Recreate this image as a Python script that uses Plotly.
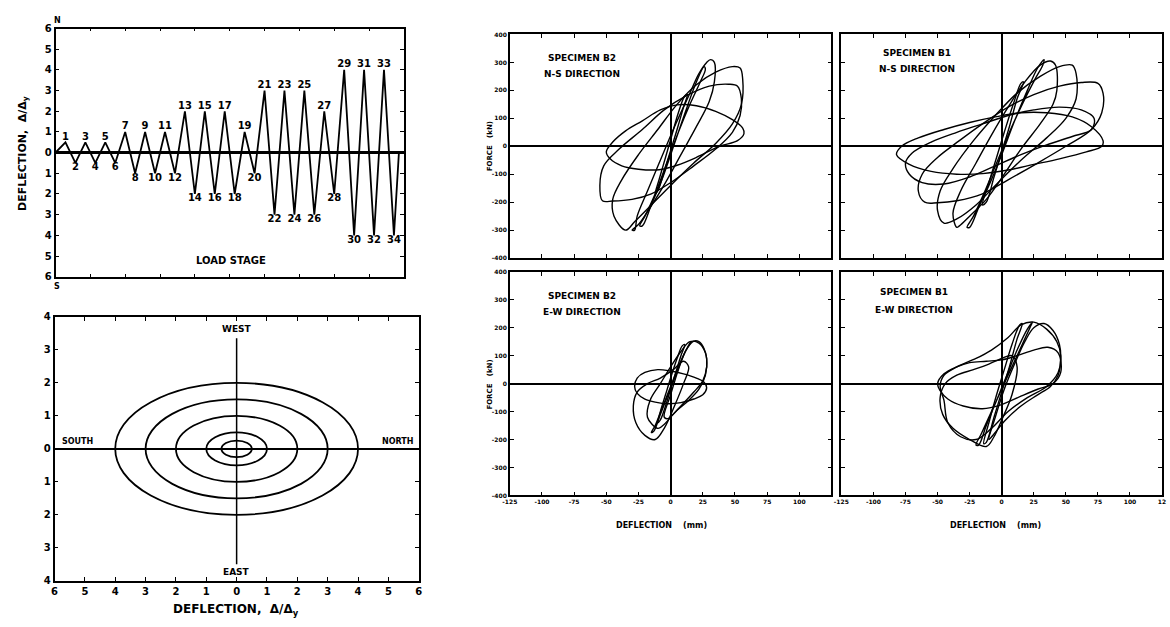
import plotly.graph_objects as go

# ---------------- data ----------------
# Load history (panel: deflection vs load stage)
stage_x = [0, 1, 2, 3, 4, 5, 6, 7, 8, 9, 10, 11, 12, 13, 14, 15, 16, 17, 18, 19, 20,
           21, 22, 23, 24, 25, 26, 27, 28, 29, 30, 31, 32, 33, 34, 34.5]
stage_y = [0, 0.5, -0.5, 0.5, -0.5, 0.5, -0.5, 1, -1, 1, -1, 1, -1, 2, -2, 2, -2, 2, -2, 1, -1,
           3, -3, 3, -3, 3, -3, 2, -2, 4, -4, 4, -4, 4, -4, 0]
stage_ticks = [-6, -5, -4, -3, -2, -1, 0, 1, 2, 3, 4, 5, 6]
stage_ticktext = ["6", "5", "4", "3", "2", "1", "0", "1", "2", "3", "4", "5", "6"]

# Orbit panel: elliptical displacement paths (semi-axes)
orbit_ax = [4.0, 3.0, 2.0, 1.0, 0.5]
orbit_ay = [2.0, 1.5, 1.0, 0.5, 0.25]
orbit_xticks = [-6, -5, -4, -3, -2, -1, 0, 1, 2, 3, 4, 5, 6]
orbit_xtext = ["6", "5", "4", "3", "2", "1", "0", "1", "2", "3", "4", "5", "6"]
orbit_yticks = [-4, -3, -2, -1, 0, 1, 2, 3, 4]
orbit_ytext = ["4", "3", "2", "1", "0", "1", "2", "3", "4"]
orbit_vline_x = [0, 0]
orbit_vline_y = [-3.5, 3.35]

# Hysteresis loops (deflection mm, force kN)
b2ns_x = [
    [-10, -5, 0, 5, 10, 13, 11, 6, 1, -4, -9, -12, -10],
    [-22, -15, -6, 3, 12, 20, 26, 27, 23, 15, 6, -3, -12, -20, -24, -22],
    [-28, -26, -18, -8, 3, 14, 22, 28, 31, 34, 34, 30, 20, 8, -4, -16, -25, -30, -28],
    [-35, -44, -45, -38, -25, -10, 5, 20, 35, 48, 54, 56, 55, 48, 35, 18, 0, -15, -28, -35],
    [-53, -55, -52, -40, -22, -5, 12, 30, 45, 52, 55, 54, 48, 35, 18, 0, -15, -30, -45, -53],
    [-50, -45, -35, -22, -8, 5, 20, 35, 48, 56, 57, 52, 38, 20, 5, -9, -25, -38, -47, -50],
]
b2ns_y = [
    [-160, -90, -15, 60, 140, 185, 180, 120, 40, -40, -120, -170, -160],
    [-285, -210, -110, 10, 130, 230, 285, 275, 230, 150, 50, -60, -170, -250, -285, -285],
    [-300, -250, -160, -50, 70, 180, 260, 300, 310, 300, 230, 160, 70, -30, -130, -220, -280, -300, -300],
    [-300, -250, -190, -120, -30, 60, 150, 220, 265, 285, 280, 240, 150, 80, 10, -60, -140, -210, -270, -300],
    [-195, -140, -70, -10, 60, 130, 180, 215, 222, 215, 170, 110, 50, -10, -70, -130, -170, -190, -196, -195],
    [-20, 15, 55, 91, 130, 148, 145, 125, 95, 65, 45, 20, 0, -40, -68, -84, -82, -70, -45, -20],
]

b1ns_x = [
    [-12, -6, 0, 6, 12, 17, 15, 9, 2, -4, -10, -15, -12],
    [-25, -18, -9, 0, 10, 20, 28, 33, 32, 26, 16, 6, -4, -14, -22, -27, -25],
    [-35, -38, -32, -20, -8, 5, 18, 30, 38, 42, 43, 40, 30, 15, 2, -12, -25, -33, -35],
    [-45, -50, -48, -38, -22, -5, 12, 30, 45, 55, 58, 58, 50, 35, 15, -5, -20, -35, -45],
    [-60, -65, -62, -50, -33, -15, 5, 25, 45, 62, 75, 79, 78, 70, 50, 28, 5, -15, -35, -50, -60],
    [-82, -78, -65, -45, -25, -5, 15, 35, 55, 70, 79, 78, 66, 45, 25, 5, -15, -35, -55, -72, -82],
    [-75, -70, -55, -35, -15, 5, 25, 45, 62, 72, 70, 55, 35, 15, -5, -25, -45, -62, -72, -75],
]
b1ns_y = [
    [-200, -110, -20, 70, 170, 230, 225, 150, 50, -40, -130, -210, -200],
    [-290, -220, -130, -30, 90, 200, 280, 310, 290, 240, 150, 50, -60, -170, -250, -290, -290],
    [-290, -240, -160, -60, 40, 140, 230, 290, 305, 290, 200, 150, 80, -10, -100, -190, -250, -285, -290],
    [-275, -230, -160, -80, 20, 110, 190, 250, 285, 290, 260, 170, 100, 30, -50, -140, -210, -260, -275],
    [-200, -160, -100, -40, 20, 80, 140, 185, 215, 228, 225, 190, 120, 60, 0, -60, -120, -170, -195, -202, -200],
    [-30, 0, 30, 60, 85, 105, 120, 120, 105, 70, 20, 0, -20, -45, -65, -85, -98, -100, -90, -65, -30],
    [-60, -25, 15, 50, 80, 110, 130, 140, 130, 100, 60, 35, 5, -30, -70, -110, -135, -130, -100, -60],
]

b2ew_x = [
    [-8, -4, 0, 4, 8, 11, 9, 5, 0, -4, -8, -10, -8],
    [-13, -8, -2, 4, 10, 15, 16, 12, 6, 0, -6, -12, -15, -13],
    [-10, -18, -16, -8, 0, 8, 15, 22, 27, 28, 25, 18, 10, 2, -6, -10],
    [-12, -20, -27, -29, -26, -18, -8, 2, 10, 14, 10, 3, -5, -12],
    [-28, -26, -20, -10, 0, 10, 20, 26, 28, 25, 18, 8, -2, -12, -20, -26, -28],
    [-5, 0, 6, 12, 18, 22, 26, 28, 27, 22, 14, 5, -2, -5],
]
b2ew_y = [
    [-130, -80, -20, 40, 100, 140, 135, 90, 20, -40, -100, -140, -130],
    [-170, -110, -40, 30, 100, 145, 150, 120, 60, -10, -80, -150, -175, -170],
    [-160, -120, -60, 0, 60, 115, 150, 145, 110, 60, 10, -30, -70, -110, -150, -160],
    [-200, -185, -140, -80, -30, 0, 20, 50, 80, 60, 0, -80, -160, -200],
    [-10, 20, 40, 50, 45, 35, 20, 5, -15, -40, -55, -68, -72, -66, -55, -35, -10],
    [-120, -40, 50, 120, 152, 150, 125, 90, 30, -20, -60, -95, -125, -120],
]

b1ew_x = [
    [-12, -6, 0, 6, 12, 16, 14, 8, 2, -4, -10, -14, -12],
    [-18, -12, -4, 4, 12, 20, 24, 22, 16, 8, 0, -8, -16, -20, -18],
    [-10, -5, 2, 10, 18, 25, 33, 40, 45, 46, 44, 38, 28, 15, 3, -6, -10],
    [-12, -25, -38, -46, -48, -44, -35, -22, -10, 0, 8, 12, 8, 0, -6, -12],
    [-50, -45, -35, -25, -12, 0, 12, 25, 36, 44, 46, 40, 28, 15, 0, -15, -30, -42, -48, -50],
    [-45, -48, -45, -35, -20, -8, 5, 15, 25, 35, 43, 46, 44, 35, 20, 5, -8, -20, -32, -42, -45],
]
b1ew_y = [
    [-210, -120, -30, 60, 160, 215, 210, 140, 50, -40, -140, -215, -210],
    [-220, -150, -60, 30, 120, 195, 220, 200, 140, 60, -20, -100, -180, -220, -220],
    [-200, -120, -20, 70, 150, 200, 215, 190, 140, 90, 30, -10, -40, -80, -130, -180, -200],
    [-225, -200, -160, -110, -50, 0, 30, 50, 70, 90, 100, 60, -40, -130, -190, -225],
    [0, 35, 60, 75, 80, 85, 100, 120, 130, 110, 40, 0, -20, -45, -75, -90, -80, -55, -25, 0],
    [-60, -10, 30, 60, 90, 120, 165, 210, 220, 195, 150, 100, 40, -10, -50, -100, -160, -200, -190, -140, -60],
]

hys_xticks = [-125, -100, -75, -50, -25, 0, 25, 50, 75, 100, 125]
hys_xtext_left = ["-125", "-100", "-75", "-50", "-25", "0", "25", "50", "75", "100", ""]
hys_xtext_right = ["-125", "-100", "-75", "-50", "-25", "0", "25", "50", "75", "100", "12"]
hys_yticks = [-400, -300, -200, -100, 0, 100, 200, 300, 400]
hys_ytext = ["-400", "-300", "-200", "-100", "0", "100", "200", "300", "400"]

# ---------------- figure ----------------
W, H = 1170, 627
BOLD = "DejaVu Sans"


def px_x(p):
    return p / W


def px_y(p):
    return 1 - p / H


fig = go.Figure()

# Panel 1: load history
fig.add_trace(go.Scatter(x=stage_x, y=stage_y, mode="lines",
                         line=dict(color="black", width=1.8), xaxis="x", yaxis="y",
                         hoverinfo="skip"))
pos_x = [s for s, v in zip(stage_x, stage_y) if v > 0]
pos_y = [v for v in stage_y if v > 0]
neg_x = [s for s, v in zip(stage_x, stage_y) if v < 0]
neg_y = [v for v in stage_y if v < 0]
fig.add_trace(go.Scatter(x=pos_x, y=pos_y, mode="text", text=[str(int(s)) for s in pos_x],
                         textposition="top center",
                         textfont=dict(family=BOLD, size=10, color="black", weight="bold"),
                         xaxis="x", yaxis="y", hoverinfo="skip"))
fig.add_trace(go.Scatter(x=neg_x, y=neg_y, mode="text", text=[str(int(s)) for s in neg_x],
                         textposition="bottom center",
                         textfont=dict(family=BOLD, size=10, color="black", weight="bold"),
                         xaxis="x", yaxis="y", hoverinfo="skip"))

# Panel 2: orbits
fig.add_trace(go.Scatter(x=orbit_vline_x, y=orbit_vline_y, mode="lines",
                         line=dict(color="black", width=1.5), xaxis="x2", yaxis="y2",
                         hoverinfo="skip"))
for a, b in zip(orbit_ax, orbit_ay):
    fig.add_shape(type="circle", xref="x2", yref="y2", x0=-a, x1=a, y0=-b, y1=b,
                  line=dict(color="black", width=1.8))

# Hysteresis panels
for xs, ys, ax in [(b2ns_x, b2ns_y, "3"), (b1ns_x, b1ns_y, "4"),
                   (b2ew_x, b2ew_y, "5"), (b1ew_x, b1ew_y, "6")]:
    for lx, ly in zip(xs, ys):
        fig.add_trace(go.Scatter(x=lx, y=ly, mode="lines",
                                 line=dict(color="black", width=1.4, shape="spline", smoothing=1.0),
                                 xaxis="x" + ax, yaxis="y" + ax, hoverinfo="skip"))

base = dict(showline=True, linecolor="black", linewidth=1.5, mirror="ticks",
            ticks="inside", ticklen=4, tickcolor="black", tickwidth=1.2,
            showgrid=False, zeroline=False)

tick_small = dict(family=BOLD, size=10, color="black", weight="bold")
tick_tiny = dict(family=BOLD, size=6, color="black", weight="bold")

layout = dict(
    width=W, height=H, margin=dict(l=0, r=0, t=0, b=0),
    paper_bgcolor="white", plot_bgcolor="white", showlegend=False,
    xaxis=dict(base, domain=[px_x(48), px_x(400)], range=[0, 35], showticklabels=False,
               tickvals=[3.5, 7, 10.5, 14, 17.5, 21, 24.5, 28, 31.5], ticklen=3, anchor="y"),
    yaxis=dict(base, domain=[px_y(276), px_y(23)], range=[-6, 6], tickvals=stage_ticks,
               ticktext=stage_ticktext, tickfont=tick_small, zeroline=True,
               zerolinecolor="black", zerolinewidth=2.5, anchor="x"),
    xaxis2=dict(base, domain=[px_x(47), px_x(415)], range=[-6, 6], tickvals=orbit_xticks,
                ticktext=orbit_xtext, tickfont=tick_small, anchor="y2"),
    yaxis2=dict(base, domain=[px_y(586), px_y(317)], range=[-4, 4], tickvals=orbit_yticks,
                ticktext=orbit_ytext, tickfont=tick_small, zeroline=True,
                zerolinecolor="black", zerolinewidth=1.8, anchor="x2"),
)

hx = dict(base, range=[-125, 125], tickvals=hys_xticks, tickfont=tick_tiny,
          zeroline=True, zerolinecolor="black", zerolinewidth=1.5)
hy = dict(base, range=[-400, 400], tickvals=hys_yticks, ticktext=hys_ytext, tickfont=tick_tiny,
          zeroline=True, zerolinecolor="black", zerolinewidth=1.5)

layout["xaxis3"] = dict(hx, domain=[px_x(507), px_x(832)], showticklabels=False, anchor="y3")
layout["yaxis3"] = dict(hy, domain=[px_y(257), px_y(29)], anchor="x3")
layout["xaxis4"] = dict(hx, domain=[px_x(842), px_x(1166)], showticklabels=False, anchor="y4")
layout["yaxis4"] = dict(hy, domain=[px_y(257), px_y(29)], showticklabels=False, anchor="x4")
layout["xaxis5"] = dict(hx, domain=[px_x(507), px_x(832)], ticktext=hys_xtext_left, anchor="y5")
layout["yaxis5"] = dict(hy, domain=[px_y(499), px_y(271)], anchor="x5")
layout["xaxis6"] = dict(hx, domain=[px_x(842), px_x(1166)], ticktext=hys_xtext_right, anchor="y6")
layout["yaxis6"] = dict(hy, domain=[px_y(499), px_y(271)], showticklabels=False, anchor="x6")

fig.update_layout(**layout)

ann_font = dict(family=BOLD, size=9, color="black", weight="bold")
big_font = dict(family=BOLD, size=12, color="black", weight="bold")
anns = [
    # panel 1
    dict(x=px_x(50), y=px_y(15), xref="paper", yref="paper", text="N", showarrow=False,
         font=dict(family=BOLD, size=8, color="black", weight="bold")),
    dict(x=px_x(50), y=px_y(286), xref="paper", yref="paper", text="S", showarrow=False,
         font=dict(family=BOLD, size=8, color="black", weight="bold")),
    dict(x=px_x(15), y=px_y(150), xref="paper", yref="paper",
         text="DEFLECTION,  Δ/Δ<sub>y</sub>", textangle=-90, showarrow=False,
         font=dict(family=BOLD, size=11, color="black", weight="bold")),
    dict(x=17.6, y=-5.2, xref="x", yref="y", text="LOAD STAGE", showarrow=False,
         font=dict(family=BOLD, size=10, color="black", weight="bold")),
    # panel 2
    dict(x=0, y=3.62, xref="x2", yref="y2", text="WEST", showarrow=False, font=ann_font),
    dict(x=0, y=-3.72, xref="x2", yref="y2", text="EAST", showarrow=False, font=ann_font),
    dict(x=-5.25, y=0.22, xref="x2", yref="y2", text="SOUTH", showarrow=False,
         font=dict(family=BOLD, size=8, color="black", weight="bold")),
    dict(x=5.3, y=0.22, xref="x2", yref="y2", text="NORTH", showarrow=False,
         font=dict(family=BOLD, size=8, color="black", weight="bold")),
    dict(x=px_x(230), y=px_y(616), xref="paper", yref="paper",
         text="DEFLECTION,  Δ/Δ<sub>y</sub>", showarrow=False, font=big_font),
    # hysteresis panels
    dict(x=-69, y=316, xref="x3", yref="y3", text="SPECIMEN B2", showarrow=False, font=ann_font),
    dict(x=-69, y=258, xref="x3", yref="y3", text="N-S DIRECTION", showarrow=False, font=ann_font),
    dict(x=-66, y=334, xref="x4", yref="y4", text="SPECIMEN B1", showarrow=False, font=ann_font),
    dict(x=-66, y=278, xref="x4", yref="y4", text="N-S DIRECTION", showarrow=False, font=ann_font),
    dict(x=-69, y=315, xref="x5", yref="y5", text="SPECIMEN B2", showarrow=False, font=ann_font),
    dict(x=-69, y=255, xref="x5", yref="y5", text="E-W DIRECTION", showarrow=False, font=ann_font),
    dict(x=-68, y=329, xref="x6", yref="y6", text="SPECIMEN B1", showarrow=False, font=ann_font),
    dict(x=-68, y=263, xref="x6", yref="y6", text="E-W DIRECTION", showarrow=False, font=ann_font),
    dict(x=px_x(487), y=px_y(143), xref="paper", yref="paper", text="FORCE   (kN)",
         textangle=-90, showarrow=False,
         font=dict(family=BOLD, size=7, color="black", weight="bold")),
    dict(x=px_x(487), y=px_y(386), xref="paper", yref="paper", text="FORCE   (kN)",
         textangle=-90, showarrow=False,
         font=dict(family=BOLD, size=7, color="black", weight="bold")),
    dict(x=px_x(660), y=px_y(530), xref="paper", yref="paper", text="DEFLECTION    (mm)",
         showarrow=False, font=dict(family=BOLD, size=8, color="black", weight="bold")),
    dict(x=px_x(998), y=px_y(530), xref="paper", yref="paper", text="DEFLECTION    (mm)",
         showarrow=False, font=dict(family=BOLD, size=8, color="black", weight="bold")),
]
for a in anns:
    a["xanchor"] = "center"
    a["yanchor"] = "middle"
fig.update_layout(annotations=anns)

fig.write_html("out.html")
